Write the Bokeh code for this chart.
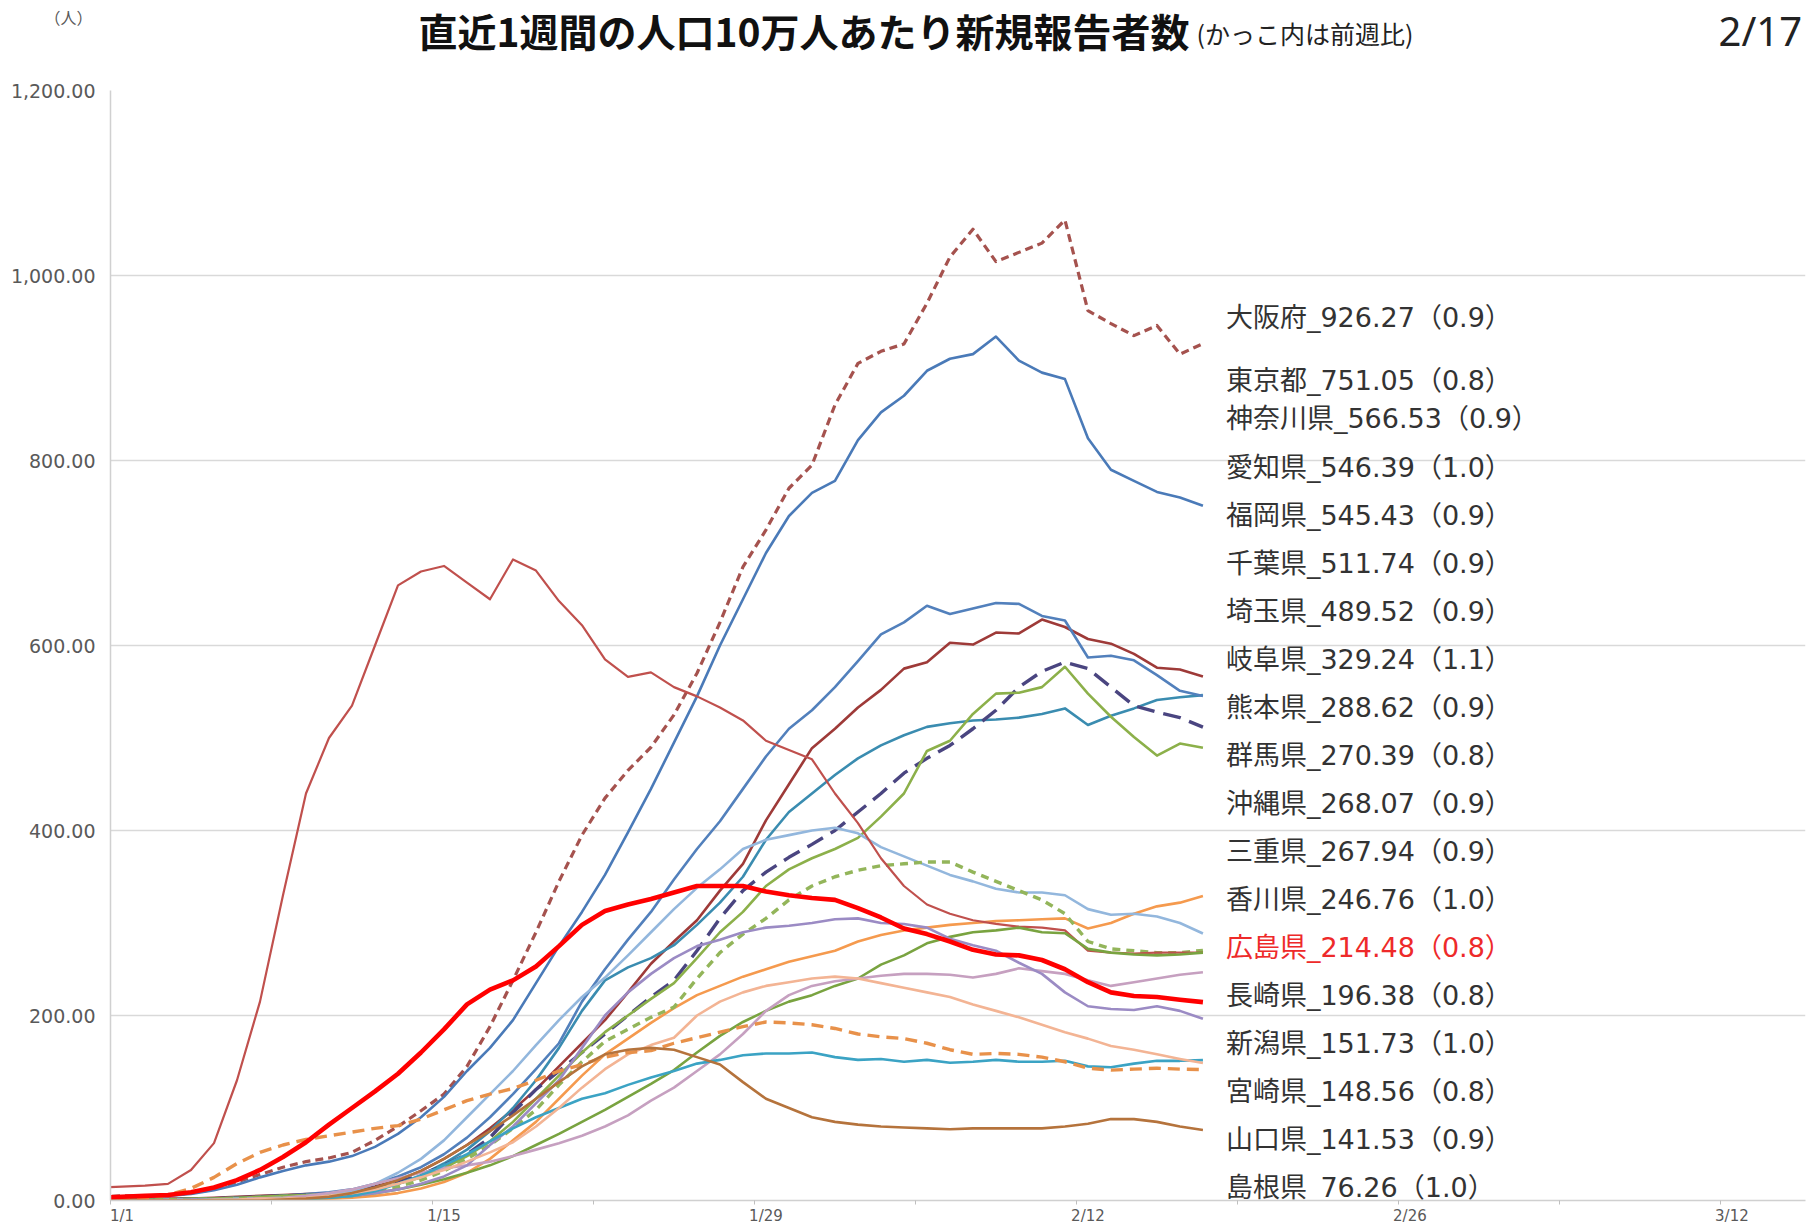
import pandas as pd
from bokeh.plotting import figure
from bokeh.layouts import column
from bokeh.models import Range1d, FixedTicker, NumeralTickFormatter, Label, ColumnDataSource
from bokeh.core.properties import value
from bokeh.embed import file_html
from bokeh.resources import INLINE

# ---------------- data ----------------
dates = pd.date_range("2021-12-31", "2022-02-17", freq="D")
origin = pd.Timestamp("2022-01-01")

x_tick_days = [0, 14, 28, 42, 56, 70]
x_tick_labels = ["1/1", "1/15", "1/29", "2/12", "2/26", "3/12"]
y_ticks = [0, 200, 400, 600, 800, 1000, 1200]

osaka = [4, 5, 5, 6, 8, 12, 20, 28, 36, 42, 46, 52, 65, 80, 97, 115, 145, 188, 238, 290, 345, 395, 435, 465, 490, 525, 570, 625, 685, 725, 770, 795, 860, 905, 918, 926, 970, 1020, 1050, 1015, 1025, 1035, 1060, 962, 948, 935, 946, 915, 926.27]
tokyo = [3, 3, 4, 5, 7, 11, 17, 25, 32, 38, 42, 48, 58, 72, 90, 112, 140, 165, 195, 235, 275, 312, 352, 398, 445, 495, 545, 600, 650, 700, 740, 765, 778, 822, 852, 870, 897, 910, 915, 934, 908, 895, 888, 824, 790, 778, 766, 760, 751.05]
kanagawa = [1, 1, 1, 2, 2, 3, 4, 5, 6, 7, 8, 10, 15, 22, 32, 45, 60, 78, 98, 120, 145, 170, 195, 225, 256, 280, 303, 335, 364, 411, 450, 489, 510, 533, 552, 575, 582, 603, 601, 614, 613, 628, 620, 607, 602, 591, 576, 574, 566.53]
aichi = [1, 1, 1, 1, 2, 2, 3, 4, 5, 6, 7, 8, 12, 18, 27, 40, 55, 75, 100, 130, 165, 205, 238, 252, 262, 276, 298, 322, 350, 390, 420, 440, 460, 478, 492, 503, 512, 516, 519, 520, 522, 526, 532, 514, 524, 532, 541, 544, 546.39]
fukuoka = [1, 1, 1, 1, 2, 2, 3, 4, 5, 7, 9, 12, 18, 26, 36, 50, 68, 90, 115, 142, 170, 215, 250, 282, 312, 347, 380, 410, 445, 480, 510, 530, 555, 583, 612, 625, 643, 634, 640, 646, 645, 632, 627, 587, 589, 584, 568, 551, 545.43]
chiba = [1, 1, 1, 1, 2, 2, 3, 4, 5, 6, 7, 9, 14, 20, 28, 38, 50, 68, 95, 120, 140, 160, 180, 200, 220, 238, 270, 305, 335, 355, 371, 385, 400, 420, 440, 462, 478, 492, 510, 530, 555, 572, 582, 575, 555, 535, 528, 522, 511.74]
saitama = [1, 1, 1, 1, 2, 2, 3, 4, 5, 6, 7, 8, 12, 18, 25, 35, 48, 64, 85, 110, 135, 160, 182, 200, 218, 235, 262, 290, 312, 340, 358, 370, 380, 392, 415, 440, 486, 497, 526, 548, 549, 555, 577, 548, 523, 501, 481, 494, 489.52]
gifu = [0, 0, 0, 0, 1, 1, 1, 1, 2, 2, 2, 3, 5, 8, 13, 20, 30, 45, 65, 85, 110, 135, 158, 175, 192, 208, 222, 232, 242, 250, 258, 264, 270, 280, 287, 292, 295, 298, 300, 302, 303, 304, 305, 294, 300, 310, 318, 322, 329.24]
kumamoto = [0, 0, 0, 1, 1, 1, 2, 2, 3, 4, 6, 10, 18, 30, 45, 65, 90, 115, 140, 168, 195, 220, 241, 265, 290, 315, 338, 358, 380, 390, 395, 400, 403, 397, 382, 372, 362, 352, 345, 337, 333, 333, 330, 315, 309, 310, 307, 300, 288.62]
gunma = [0, 0, 0, 1, 1, 1, 2, 2, 3, 4, 5, 6, 10, 15, 22, 32, 45, 60, 78, 98, 125, 150, 172, 185, 198, 209, 240, 268, 288, 305, 325, 340, 350, 357, 362, 364, 366, 366, 355, 345, 335, 325, 310, 280, 272, 270, 268, 268, 270.39]
okinawa = [14, 15, 16, 18, 33, 62, 130, 215, 330, 440, 500, 535, 600, 665, 680, 686, 668, 650, 693, 681, 648, 622, 585, 566, 571, 555, 545, 533, 519, 497, 487, 477, 440, 408, 370, 340, 320, 310, 303, 299, 296, 295, 292, 270, 268, 267, 268, 268, 268.07]
mie = [0, 0, 0, 0, 0, 1, 1, 1, 2, 2, 3, 5, 8, 12, 17, 23, 30, 38, 48, 60, 72, 85, 98, 112, 126, 141, 160, 178, 193, 205, 215, 222, 232, 240, 255, 265, 278, 285, 290, 292, 295, 290, 289, 272, 268, 266, 265, 266, 267.94]
kagawa = [0, 0, 0, 0, 0, 0, 1, 2, 3, 5, 8, 12, 18, 24, 30, 35, 38, 42, 48, 55, 62, 70, 80, 92, 108, 122, 140, 158, 180, 205, 222, 232, 237, 240, 243, 245, 245, 244, 241, 245, 251, 248, 245, 238, 232, 236, 240, 244, 246.76]
hiroshima = [3, 4, 5, 6, 9, 14, 22, 33, 47, 63, 82, 100, 118, 137, 160, 185, 212, 228, 238, 253, 275, 298, 313, 320, 326, 333, 340, 340, 340, 334, 330, 327, 325, 316, 306, 294, 288, 280, 271, 266, 265, 260, 250, 236, 225, 221, 220, 217, 214.48]
nagasaki = [0, 0, 0, 0, 1, 1, 1, 2, 2, 3, 4, 5, 8, 12, 18, 26, 38, 60, 80, 105, 130, 165, 200, 225, 245, 262, 275, 282, 290, 295, 297, 300, 304, 305, 300, 299, 295, 283, 276, 270, 257, 245, 225, 210, 207, 206, 210, 205, 196.38]
niigata = [0, 0, 0, 0, 0, 1, 1, 1, 2, 2, 3, 5, 10, 18, 27, 38, 50, 64, 78, 90, 100, 110, 116, 125, 133, 140, 148, 152, 157, 159, 159, 160, 155, 152, 153, 150, 152, 149, 150, 152, 150, 150, 151, 145, 144, 148, 151, 151, 151.73]
miyazaki = [0, 0, 0, 0, 0, 1, 1, 2, 2, 3, 5, 8, 12, 18, 25, 33, 42, 52, 63, 80, 100, 122, 142, 158, 168, 176, 200, 215, 225, 232, 236, 240, 242, 240, 235, 230, 225, 220, 212, 205, 198, 190, 182, 175, 167, 163, 158, 153, 148.56]
yamaguchi = [1, 2, 3, 6, 13, 25, 40, 52, 60, 66, 70, 74, 78, 81, 88, 98, 108, 115, 121, 130, 140, 147, 155, 160, 162, 170, 176, 182, 188, 193, 192, 190, 186, 180, 177, 175, 170, 163, 158, 159, 158, 155, 150, 143, 141, 142, 143, 142, 141.53]
shimane = [0, 0, 0, 0, 0, 0, 0, 0, 1, 2, 4, 8, 14, 22, 32, 45, 60, 75, 92, 110, 128, 145, 158, 163, 165, 163, 155, 147, 128, 110, 100, 90, 85, 82, 80, 79, 78, 77, 78, 78, 78, 78, 80, 83, 88, 88, 85, 80, 76.26]

names = ["大阪府", "東京都", "神奈川県", "愛知県", "福岡県", "千葉県", "埼玉県", "岐阜県", "熊本県",
         "群馬県", "沖縄県", "三重県", "香川県", "広島県", "長崎県", "新潟県", "宮崎県", "山口県", "島根県"]
latest = [926.27, 751.05, 566.53, 546.39, 545.43, 511.74, 489.52, 329.24, 288.62,
          270.39, 268.07, 267.94, 246.76, 214.48, 196.38, 151.73, 148.56, 141.53, 76.26]
ratio = [0.9, 0.8, 0.9, 1.0, 0.9, 0.9, 0.9, 1.1, 0.9, 0.8, 0.9, 0.9, 1.0, 0.8, 0.8, 1.0, 0.8, 0.9, 1.0]
series = [osaka, tokyo, kanagawa, aichi, fukuoka, chiba, saitama, gifu, kumamoto,
          gunma, okinawa, mie, kagawa, hiroshima, nagasaki, niigata, miyazaki, yamaguchi, shimane]

title_text = "直近1週間の人口10万人あたり新規報告者数"
subtitle_text = "(かっこ内は前週比)"
unit_text = "（人）"
date_text = "2/17"

# ---------------- styles ----------------
styles = {
    "大阪府": ("#A5524E", 3.2, "8 5"),
    "東京都": ("#4A7AB8", 2.6, "solid"),
    "神奈川県": ("#9E3A38", 2.6, "solid"),
    "愛知県": ("#3A8CB0", 2.6, "solid"),
    "福岡県": ("#5280BC", 2.6, "solid"),
    "千葉県": ("#4A4580", 3.4, "18 9"),
    "埼玉県": ("#8CB04A", 2.6, "solid"),
    "岐阜県": ("#F59A4E", 2.6, "solid"),
    "熊本県": ("#93B7DD", 2.6, "solid"),
    "群馬県": ("#93B55A", 3.4, "8 6"),
    "沖縄県": ("#C0504D", 2.2, "solid"),
    "三重県": ("#79A340", 2.6, "solid"),
    "香川県": ("#C6A0C0", 2.6, "solid"),
    "広島県": ("#FF0000", 4.6, "solid"),
    "長崎県": ("#9B8BC4", 2.6, "solid"),
    "新潟県": ("#3BA3C4", 2.6, "solid"),
    "宮崎県": ("#F3B494", 2.6, "solid"),
    "山口県": ("#E8914A", 3.4, "12 7"),
    "島根県": ("#B5733C", 2.6, "solid"),
}

W, H = 1818, 1227
HEAD_H = 70
LEFT, RIGHT = 110, 13          # frame borders (page px)
FRAME_TOP, FRAME_BOTTOM = 90, 1200

# ---------------- header figure (titles) ----------------
head = figure(width=W, height=HEAD_H, output_backend="svg", toolbar_location=None,
              x_range=Range1d(LEFT, W - RIGHT), y_range=Range1d(0, HEAD_H),
              x_axis_location=None, y_axis_location="left",
              min_border_left=LEFT, min_border_right=RIGHT,
              min_border_top=0, min_border_bottom=0)
head.grid.visible = False
head.outline_line_color = None
head.background_fill_color = "white"
head.border_fill_color = "white"

def hy(page_y):
    return HEAD_H - page_y

# unit label "（人）" as the header's axis tick label
unit_y = hy(16)
head.yaxis.ticker = FixedTicker(ticks=[unit_y])
head.yaxis.major_label_overrides = {unit_y: unit_text}
head.yaxis.axis_line_color = None
head.yaxis.major_tick_line_color = None
head.yaxis.minor_tick_line_color = None
head.yaxis.major_tick_out = 0
head.yaxis.major_label_text_font = "Noto Sans CJK JP"
head.yaxis.major_label_text_font_size = "16px"
head.yaxis.major_label_text_color = "#595959"
head.yaxis.major_label_standoff = 18

head.add_layout(Label(x=418, y=hy(29), text=title_text,
                      text_font="Noto Sans CJK JP", text_font_style="bold", text_font_size="39px",
                      text_baseline="middle", text_color="#111111"))
head.add_layout(Label(x=1196, y=hy(32), text=subtitle_text,
                      text_font="Noto Sans CJK JP", text_font_size="25px",
                      text_baseline="middle", text_color="#222222"))
head.add_layout(Label(x=1718, y=hy(2), text=date_text,
                      text_font="Noto Sans", text_font_size="40px",
                      text_baseline="top", text_color="#222222"))

# ---------------- main chart ----------------
p = figure(width=W, height=H - HEAD_H, output_backend="svg", toolbar_location=None,
           x_range=Range1d(0, 73.7), y_range=Range1d(0, 1200),
           min_border_left=LEFT, min_border_right=RIGHT,
           min_border_top=FRAME_TOP - HEAD_H, min_border_bottom=H - FRAME_BOTTOM)
p.outline_line_color = None
p.background_fill_color = "white"
p.border_fill_color = "white"

# x positions: centre of each date slot
xs = [(d - origin).days + 0.5 for d in dates]

order = [i for i, n in enumerate(names) if n != "広島県"] + [names.index("広島県")]
for i in order:
    col, lw, dash = styles[names[i]]
    p.line(xs, series[i], line_color=col, line_width=lw, line_dash=dash, line_join="round")

# axes
p.xaxis.ticker = FixedTicker(ticks=[d + 0.5 for d in x_tick_days],
                             minor_ticks=list(range(0, 74, 7)))
p.xaxis.major_label_overrides = {d + 0.5: lab for d, lab in zip(x_tick_days, x_tick_labels)}
p.xaxis.major_tick_line_color = None
p.xaxis.major_tick_out = 0
p.xaxis.major_tick_in = 0
p.xaxis.minor_tick_line_color = "#BFBFBF"
p.xaxis.minor_tick_out = 4
p.xaxis.minor_tick_in = 0
p.xaxis.axis_line_color = "#D0D0D0"
p.xaxis.axis_line_width = 1.5
p.xaxis.major_label_text_font = "DejaVu Sans"
p.xaxis.major_label_text_font_size = "15px"
p.xaxis.major_label_text_color = "#595959"
p.xaxis.major_label_standoff = 2

p.yaxis.ticker = FixedTicker(ticks=y_ticks)
p.yaxis.formatter = NumeralTickFormatter(format="0,0.00")
p.yaxis.major_tick_line_color = None
p.yaxis.minor_tick_line_color = None
p.yaxis.major_tick_out = 0
p.yaxis.axis_line_color = "#D0D0D0"
p.yaxis.axis_line_width = 1.5
p.yaxis.major_label_text_font = "DejaVu Sans"
p.yaxis.major_label_text_font_size = "19px"
p.yaxis.major_label_text_color = "#595959"
p.yaxis.major_label_standoff = 15

p.xgrid.grid_line_color = None
p.ygrid.ticker = FixedTicker(ticks=y_ticks)
p.ygrid.grid_line_color = "#D9D9D9"
p.ygrid.grid_line_width = 1.5

# right-hand labels (rows given in page pixels, converted to data units)
px_per_unit = (FRAME_BOTTOM - FRAME_TOP) / 1200.0
first_rows = [316.7, 380.0, 418.3]
rows = first_rows + [466.7 + 48.0 * k for k in range(len(names) - 3)]
label_y = [(FRAME_BOTTOM - r) / px_per_unit for r in rows]
label_x = [48.5] * len(names)
texts = [f"{n}_{v:.2f}（{r:.1f}）" for n, v, r in zip(names, latest, ratio)]
tcolors = ["#EE2A2A" if n == "広島県" else "#333333" for n in names]
src = ColumnDataSource(dict(x=label_x, y=label_y, t=texts, c=tcolors))
p.text(x="x", y="y", text="t", text_color="c", source=src,
       text_font=value("DejaVu Sans, Noto Sans CJK JP"), text_font_size="27px",
       text_baseline="middle", text_align="left")

layout = column(head, p, spacing=0)
open("out.html", "w").write(file_html(layout, INLINE))
